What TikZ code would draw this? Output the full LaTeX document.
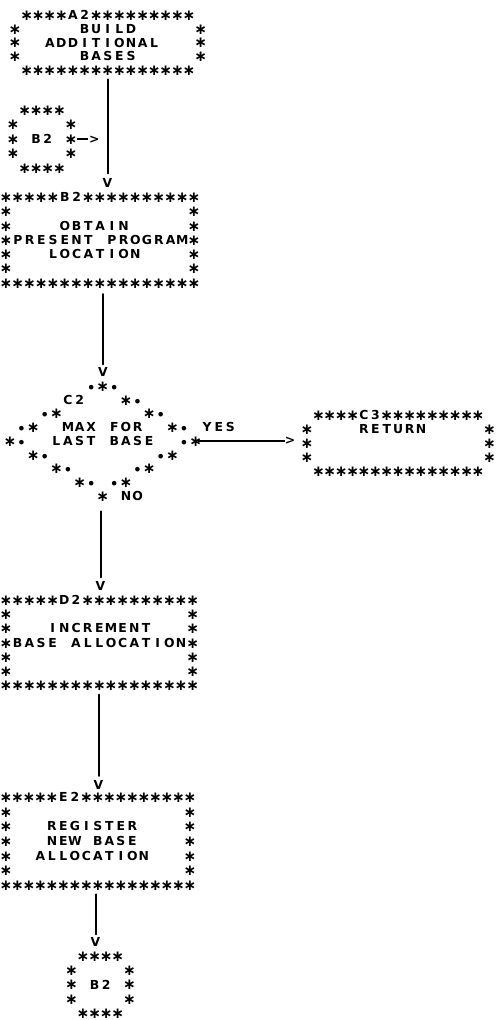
\documentclass[tikz,border=0pt]{standalone}
\usepackage{fontspec}
\setmainfont{DejaVu Sans}
\newfontfamily\starfont{DejaVu Sans Bold}
\newlength\cw
\newcommand\cell[1]{\makebox[\cw][c]{#1}}
\newcommand\stc{\cell{\raisebox{-0.9pt}{\scalebox{1.22}{\starfont ∗}}}}
\newcommand\dtc{\cell{\raisebox{-1.8pt}{\scalebox{1.05}{\starfont •}}}}
\newcommand\dsc{\makebox[\cw][l]{\rule[3.8pt]{\cw}{1.4pt}}}
\ExplSyntaxOn
\NewDocumentCommand\gr{m}
  {
    \hbox:n
      {
        \tl_map_inline:nn {#1}
          {
            \str_case:nnF {##1}
              {
                {*}{\stc}
                {.}{\dtc}
                {-}{\dsc}
              }
              { \cell{##1} }
          }
      }
  }
\NewDocumentCommand\grid{mmm}
  {
    \setlength\cw{#1}
    \vtop
      {
        \baselineskip=#2 \scan_stop:
        \lineskiplimit=-\maxdimen \scan_stop:
        \lineskip=0pt \scan_stop:
        \clist_map_inline:nn {#3} { \gr{##1} }
      }
  }
\ExplSyntaxOff
\tikzset{
  txt/.style={inner sep=0pt, outer sep=0pt, font=\fontsize{12.4pt}{14pt}\selectfont\bfseries},
  chart/.style={txt, anchor=base west},
  ln/.style={line width=2pt, line cap=round},
  hln/.style={line width=1.2pt}
}
\begin{document}
\begin{tikzpicture}[x=1pt,y=-1pt]
\fill[white] (0,0) rectangle (496,1020);
\useasboundingbox (0,0) rectangle (496,1020);
% boxes
\node[chart] (a2) at (9.2,19.5) {\grid{11.6pt}{13.75pt}{~****A2*********,*~~~~~BUILD~~~~~*,*~~ADDITIONAL~~~*,*~~~~~BASES~~~~~*,~***************}};
\node[chart] (ob2) at (7.2,114.5) {\grid{11.6pt}{14.5pt}{~****,*~~~~*,*~B2~*->,*~~~~*,~****}};
\node[chart] (b2) at (0.2,201.5) {\grid{11.75pt}{14.3pt}{*****B2**********,*~~~~~~~~~~~~~~~*,*~~~~OBTAIN~~~~~*,*PRESENT~PROGRAM*,*~~~LOCATION~~~~*,*~~~~~~~~~~~~~~~*,*****************}};
\node[chart] (c2) at (4.2,390.5) {\grid{11.6pt}{13.75pt}{~~~~~~~.*.,~~~~~C2~~~*.,~~~.*~~~~~~~*.,~.*~~MAX~FOR~~*.~YES,*.~~LAST~BASE~~.*,~~*.~~~~~~~~~.*,~~~~*.~~~~~.*,~~~~~~*.~.*,~~~~~~~~*~NO}};
\node[chart] (c3) at (301.3,419.5) {\grid{11.4pt}{14pt}{~****C3*********,*~~~~RETURN~~~~~*,*~~~~~~~~~~~~~~~*,*~~~~~~~~~~~~~~~*,~***************}};
\node[chart] (d2) at (0.2,604.5) {\grid{11.67pt}{14.2pt}{*****D2**********,*~~~~~~~~~~~~~~~*,*~~~INCREMENT~~~*,*BASE~ALLOCATION*,*~~~~~~~~~~~~~~~*,*~~~~~~~~~~~~~~~*,*****************}};
\node[chart] (e2) at (0.2,801.5) {\grid{11.5pt}{14.67pt}{*****E2**********,*~~~~~~~~~~~~~~~*,*~~~REGISTER~~~~*,*~~~NEW~BASE~~~~*,*~~ALLOCATION~~~*,*~~~~~~~~~~~~~~~*,*****************}};
\node[chart] (bb2) at (65.6,960.5) {\grid{11.6pt}{14.25pt}{~****,*~~~~*,*~B2~*,*~~~~*,~****}};
% arrowhead letters
\node[txt] (vb2) at (107.5,183) {V};
\node[txt] (vc2) at (103,372) {V};
\node[txt] (vd2) at (100.5,586) {V};
\node[txt] (ve2) at (98.5,784.5) {V};
\node[txt] (vbt) at (95.5,942) {V};
\node[txt] (gt) at (290,441) {>};
\coordinate (c2tip) at (198,441);
% connectors
\draw[ln, shorten <=4pt, shorten >=5pt] (vb2.north |- a2.south) -- (vb2.north);
\draw[ln, shorten <=6pt, shorten >=3pt] (vc2.north |- b2.south) -- (vc2.north);
\draw[ln, shorten <=10pt, shorten >=4pt] (vd2.north |- c2.south) -- (vd2.north);
\draw[ln, shorten <=4pt, shorten >=4pt] (ve2.north |- d2.south) -- (ve2.north);
\draw[ln, shorten <=4pt, shorten >=3pt] (vbt.north |- e2.south) -- (vbt.north);
\draw[hln] (c2tip) -- (gt.west);
\end{tikzpicture}
\end{document}
